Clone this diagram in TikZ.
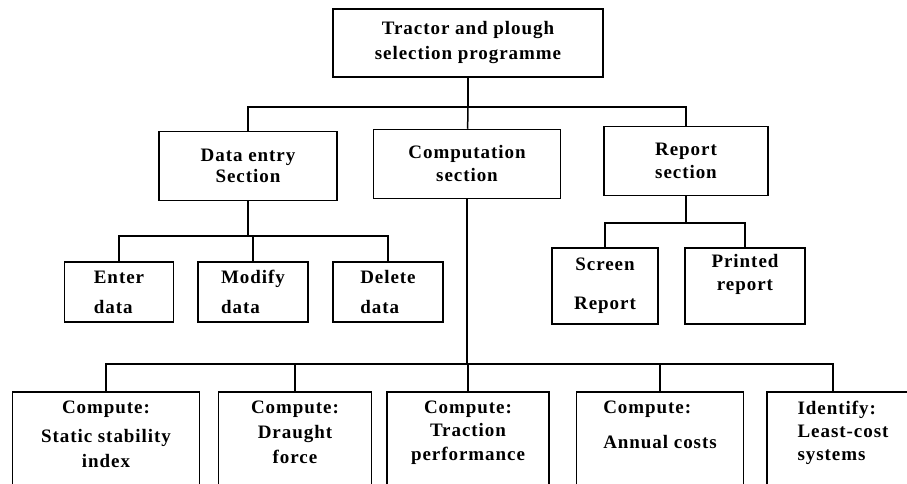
\documentclass[tikz,border=0pt]{standalone}
\usepackage{fontspec}
\setmainfont{Liberation Serif}[LetterSpace=5]
\usepackage{tikz}
\usetikzlibrary{positioning}

\begin{document}
\begin{tikzpicture}[x=1pt, y=-1pt,
box/.style={rectangle, draw=black, line width=1.5pt, inner sep=4pt, text centered, font=\fontsize{19}{22}\selectfont\bfseries, align=center},
leaf/.style={box, anchor=north, inner ysep=9pt, text depth=100pt},
link/.style={line width=1.5pt}
]
\clip (0,0) rectangle (907,484);
% Define the nodes for each level of the programme
\node[box, minimum width=270pt, minimum height=68pt] (programme) at (468,43) {Tractor and plough\\[3pt]selection programme};
\node[box, minimum width=178pt, minimum height=69pt] (dataentry) at (248,166) {Data entry\\[-1pt]Section};
\node[box, minimum width=187pt, minimum height=69pt] (computation) at (467,164) {Computation\\[1pt]section};
\node[box, minimum width=164pt, minimum height=69pt] (report) at (686,161) {Report\\[1pt]section};
% Data entry section
\node[box, align=left, minimum width=109pt, minimum height=60pt] (enter) at (119,292) {Enter\\[8pt]data};
\node[box, align=left, minimum width=110pt, minimum height=60pt] (modify) at (253,292) {Modify\\[8pt]data};
\node[box, align=left, minimum width=110pt, minimum height=60pt] (delete) at (388,292) {Delete\\[8pt]data};
% Report section
\node[box, minimum width=106pt, minimum height=76pt] (screen) at (605,286) {Screen\\[17pt]Report};
\node[box, minimum width=120pt, minimum height=76pt, text depth=28pt] (printed) at (745,286) {Printed\\[1pt]report};
% Computation section (boxes run past the lower edge)
\node[leaf, minimum width=187pt] (stability) at (106,391) {Compute:\\[7pt]Static stability\\[3pt]index};
\node[leaf, minimum width=153pt] (draught) at (295,391) {Compute:\\[3pt]Draught\\[3pt]force};
\node[leaf, minimum width=162pt] (traction) at (468,391) {Compute:\\[1pt]Traction\\[2pt]performance};
\node[leaf, align=left, minimum width=167pt] (costs) at (660,391) {Compute:\\[13pt]Annual costs};
\node[leaf, align=left, minimum width=152pt] (leastcost) at (843,391) {Identify:\\[1pt]Least-cost\\[1pt]systems};
% Junctions of the connecting lines
\coordinate (topbus) at (468,107);
\coordinate (databus) at (248,236);
\coordinate (reportbus) at (686,223);
\coordinate (compbus) at (467,364);
% Draw the connecting lines
\draw[link] (programme) -- (topbus);
\draw[link] (topbus) -| (dataentry.north);
\draw[link] (topbus) -- (computation);
\draw[link] (topbus) -| (report.north);
\draw[link] (dataentry) -- (databus);
\draw[link] (databus) -| (enter.north);
\draw[link] (databus) -| (modify.north);
\draw[link] (databus) -| (delete.north);
\draw[link] (report) -- (reportbus);
\draw[link] (reportbus) -| (screen.north);
\draw[link] (reportbus) -| (printed.north);
\draw[link] (computation) -- (compbus);
\draw[link] (compbus) -| (stability.north);
\draw[link] (compbus) -| (draught.north);
\draw[link] (compbus) -| (traction.north);
\draw[link] (compbus) -| (costs.north);
\draw[link] (compbus) -| ([xshift=-10pt]leastcost.north);
\end{tikzpicture}
\end{document}
